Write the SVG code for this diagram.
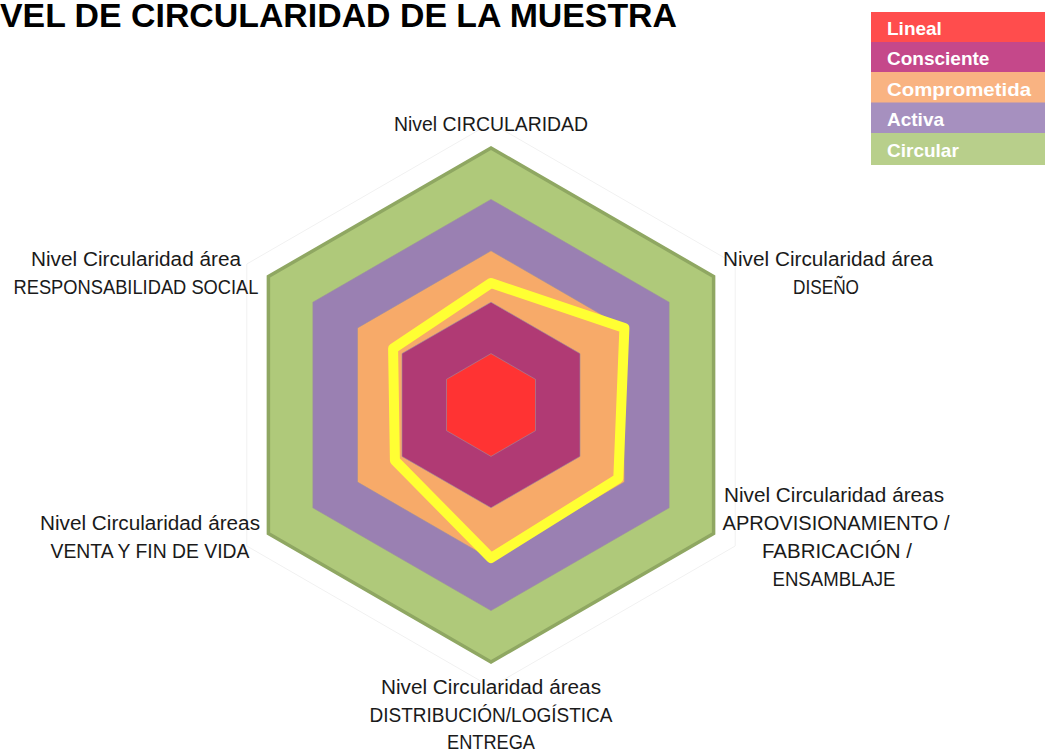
<svg xmlns="http://www.w3.org/2000/svg" width="1045" height="752" viewBox="0 0 1045 752">
<style>
.lbl{font-family:"Liberation Sans",Arial,sans-serif;font-size:19.5px;fill:#1a1a1a;text-anchor:middle}
.leg{font-family:"Liberation Sans",Arial,sans-serif;font-size:19px;font-weight:bold;fill:#ffffff}
.ttl{font-family:"Liberation Sans",Arial,sans-serif;font-size:34px;font-weight:bold;fill:#000000}
.ring{stroke:#9b8ea0;stroke-width:1;stroke-opacity:0.6}
</style>
<rect width="1045" height="752" fill="#ffffff"/>
<text class="ttl" x="0" y="27" textLength="677" lengthAdjust="spacingAndGlyphs">VEL DE CIRCULARIDAD DE LA MUESTRA</text>

<g id="grid">
<polygon points="491,123 735.2,264 735.2,546 491,687 246.8,546 246.8,264" fill="none" stroke="#f1f1f1" stroke-width="1"/>
</g>

<g id="level-circular">
<polygon points="491,148 713.6,276.5 713.6,533.5 491,662 268.4,533.5 268.4,276.5" fill="#afc97a" stroke="#8fa762" stroke-width="3.5" stroke-linejoin="miter"/>
</g>
<g id="level-activa">
<polygon class="ring" points="491,199.4 669.1,302.2 669.1,507.8 491,610.6 312.9,507.8 312.9,302.2" fill="#9a80b2"/>
</g>
<g id="level-comprometida">
<polygon class="ring" points="491,250.8 624.5,327.9 624.5,482.1 491,559.2 357.5,482.1 357.5,327.9" fill="#f7aa69"/>
</g>
<g id="level-consciente">
<polygon class="ring" points="491,302.2 580,353.6 580,456.4 491,507.8 402,456.4 402,353.6" fill="#b03a74"/>
</g>
<g id="level-lineal">
<polygon class="ring" points="491,353.6 535.5,379.3 535.5,430.7 491,456.4 446.5,430.7 446.5,379.3" fill="#ff3333"/>
</g>

<g id="connectors">
<polygon points="491,283 624.4,328 618.3,478.5 491,558 394.9,460.5 393.1,348.5" fill="none" stroke="#ffff33" stroke-width="10" stroke-linejoin="round"/>
</g>

<g id="label-top">
<text class="lbl" x="491" y="131" textLength="194" lengthAdjust="spacingAndGlyphs">Nivel CIRCULARIDAD</text>
</g>
<g id="label-upper-left">
<text class="lbl" x="136" y="266" textLength="210" lengthAdjust="spacingAndGlyphs">Nivel Circularidad área</text>
<text class="lbl" x="136" y="294" textLength="245" lengthAdjust="spacingAndGlyphs">RESPONSABILIDAD SOCIAL</text>
</g>
<g id="label-upper-right">
<text class="lbl" x="828" y="266" textLength="210" lengthAdjust="spacingAndGlyphs">Nivel Circularidad área</text>
<text class="lbl" x="826" y="294" textLength="66" lengthAdjust="spacingAndGlyphs">DISEÑO</text>
</g>
<g id="label-lower-right">
<text class="lbl" x="834" y="502" textLength="220" lengthAdjust="spacingAndGlyphs">Nivel Circularidad áreas</text>
<text class="lbl" x="836" y="530" textLength="227" lengthAdjust="spacingAndGlyphs">APROVISIONAMIENTO /</text>
<text class="lbl" x="837" y="558" textLength="150" lengthAdjust="spacingAndGlyphs">FABRICACIÓN /</text>
<text class="lbl" x="834" y="586" textLength="123" lengthAdjust="spacingAndGlyphs">ENSAMBLAJE</text>
</g>
<g id="label-lower-left">
<text class="lbl" x="150" y="530" textLength="220" lengthAdjust="spacingAndGlyphs">Nivel Circularidad áreas</text>
<text class="lbl" x="150" y="558" textLength="199" lengthAdjust="spacingAndGlyphs">VENTA Y FIN DE VIDA</text>
</g>
<g id="label-bottom">
<text class="lbl" x="491" y="694" textLength="220" lengthAdjust="spacingAndGlyphs">Nivel Circularidad áreas</text>
<text class="lbl" x="491" y="722" textLength="243" lengthAdjust="spacingAndGlyphs">DISTRIBUCIÓN/LOGÍSTICA</text>
<text class="lbl" x="491" y="749" textLength="88" lengthAdjust="spacingAndGlyphs">ENTREGA</text>
</g>

<g id="legend">
<rect x="871" y="12" width="174" height="30.5" fill="#ff4d4d"/>
<rect x="871" y="42" width="174" height="30.5" fill="#c5488a"/>
<rect x="871" y="72" width="174" height="31" fill="#f9b382"/>
<rect x="871" y="102.5" width="174" height="31" fill="#a690bf"/>
<rect x="871" y="133" width="174" height="32" fill="#b8cf8b"/>
<text class="leg" x="887" y="35">Lineal</text>
<text class="leg" x="887" y="65">Consciente</text>
<text class="leg" x="887" y="96" textLength="144" lengthAdjust="spacingAndGlyphs">Comprometida</text>
<text class="leg" x="887" y="126">Activa</text>
<text class="leg" x="887" y="157">Circular</text>
</g>
</svg>
